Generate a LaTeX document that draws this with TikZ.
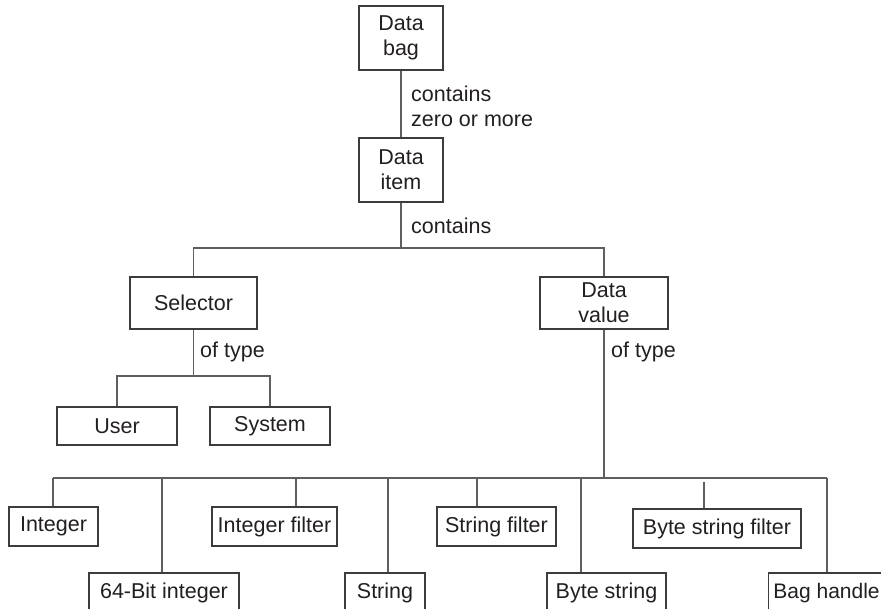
\documentclass[tikz,border=0pt]{standalone}
\usepackage{fontspec}
\setmainfont{Liberation Sans}
\definecolor{linec}{RGB}{95,95,95}
\definecolor{boxc}{RGB}{60,60,60}
\definecolor{txtc}{RGB}{35,31,32}
\begin{document}
\begin{tikzpicture}[x=1pt,y=-1pt,
  box/.style={draw=boxc,line width=1.1pt,rectangle,inner sep=0pt,text=txtc,
    font=\fontsize{21.5}{25}\selectfont,align=center},
  lbl/.style={inner sep=0pt,anchor=west,text=txtc,align=left,
    font=\fontsize{21.5}{25}\selectfont},
  conn/.style={draw=linec,line width=1.1pt}]
\useasboundingbox (0,0) rectangle (881,609);
\clip (0,0) rectangle (881,609);
\fill[white] (0,0) rectangle (881,609);
% top
\node[box,minimum width=84pt,minimum height=64pt] (bag) at (401,38) {Data\\bag};
\node[box,minimum width=84pt,minimum height=64pt] (item) at (401,170) {Data\\item};
\draw[conn] (bag) -- (item);
\node[lbl] (l1) at (411,106) {contains\\zero or more};
\node[lbl] (l2) at (411,226) {contains};
% second level
\node[box,minimum width=127pt,minimum height=52pt] (sel) at (193.5,303) {Selector};
\node[box,minimum width=128pt,minimum height=52pt] (val) at (604,303) {Data\\value};
\coordinate (bus1) at (401,248);
\draw[conn] (item.south) -- (bus1);
\draw[conn] (sel.north) |- (bus1) -| (val.north);
\node[lbl] (l3) at (200,352) {of type};
\node[lbl] (l4) at (611,352) {of type};
% selector children
\node[box,minimum width=120pt,minimum height=38pt] (user) at (117,426) {User};
\node[box,minimum width=120pt,minimum height=38pt] (sys) at (270,426) {System};
\coordinate (bus2) at (193.5,376);
\draw[conn] (sel.south) -- (bus2);
\draw[conn] (user.north) |- (bus2) -| (sys.north);
% data value children
\coordinate (bus3) at (604,478);
\draw[conn] (val.south) -- (bus3);
\node[box,minimum width=89pt,minimum height=39pt] (int) at (53.5,526.5) {Integer};
\node[box,minimum width=125pt,minimum height=39pt] (intf) at (274.5,526.5) {Integer filter};
\node[box,minimum width=119pt,minimum height=39pt] (strf) at (496.5,526.5) {String filter};
\node[box,minimum width=168pt,minimum height=39pt] (bstrf) at (717,528.5) {Byte string filter};
\node[box,minimum width=150pt,minimum height=40pt] (i64) at (164,593) {64-Bit integer};
\node[box,minimum width=80pt,minimum height=40pt] (str) at (385,593) {String};
\node[box,minimum width=119pt,minimum height=40pt] (bstr) at (606.5,593) {Byte string};
\node[box,minimum width=120pt,minimum height=40pt,anchor=west,font=\fontsize{21}{25}\selectfont] (bag2) at (768,593) {\hspace*{-4pt}Bag handle};
\coordinate (bl) at (53,478);
\coordinate (br) at (827,478);
\draw[conn] (bl) -- (br);
\coordinate (d1) at (53,478);
\coordinate (d2) at (162,478);
\coordinate (d3) at (296,478);
\coordinate (d4) at (388,478);
\coordinate (d5) at (477,478);
\coordinate (d6) at (581,478);
\coordinate (d7) at (704,481.5);
\coordinate (d8) at (827,478);
\draw[conn] (d1) -- (d1 |- int.north);
\draw[conn] (d2) -- (d2 |- i64.north);
\draw[conn] (d3) -- (d3 |- intf.north);
\draw[conn] (d4) -- (d4 |- str.north);
\draw[conn] (d5) -- (d5 |- strf.north);
\draw[conn] (d6) -- (d6 |- bstr.north);
\draw[conn] (d7) -- (d7 |- bstrf.north);
\draw[conn] (d8) -- (d8 |- bag2.north);
\end{tikzpicture}
\end{document}
